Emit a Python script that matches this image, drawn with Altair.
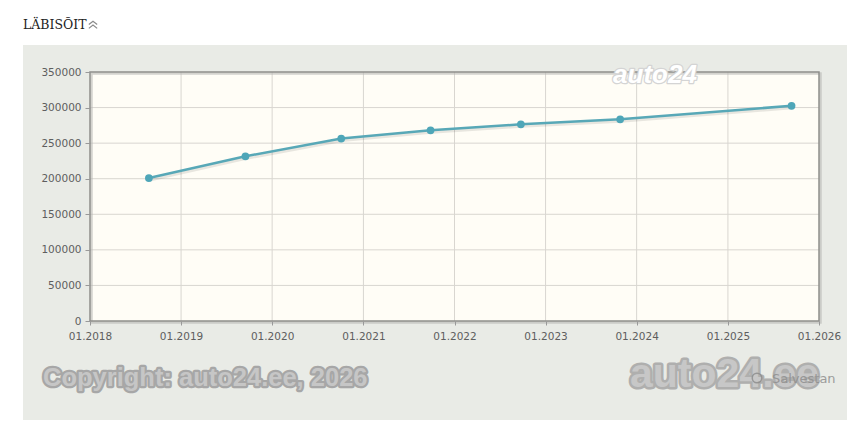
import altair as alt
import pandas as pd

# ---- data ----
dates = ["2018-08-25", "2019-09-16", "2020-10-04", "2021-09-27",
         "2022-09-24", "2023-10-27", "2025-09-13"]
km = [201000, 231500, 256500, 268000, 276500, 283500, 302500]
x_ticks = ["2018-01-01", "2019-01-01", "2020-01-01", "2021-01-01", "2022-01-01",
           "2023-01-01", "2024-01-01", "2025-01-01", "2026-01-01"]
y_ticks = [0, 50000, 100000, 150000, 200000, 250000, 300000, 350000]
title_text = "LÄBISÕIT"
copyright_text = "Copyright: auto24.ee, 2026"
brand_text = "auto24.ee"
brand_top = "auto24"
save_text = "Salvestan"

W, H = 729, 249

df = pd.DataFrame({"date": dates, "km": km})
xt = pd.DataFrame({"date": x_ticks[1:-1]})
yt = pd.DataFrame({"km": y_ticks[1:-1]})
one = pd.DataFrame({"a": [0]})

xscale = alt.Scale(type="utc",
                   domain=[alt.DateTime(year=2018, month=1, date=1, utc=True),
                           alt.DateTime(year=2026, month=1, date=1, utc=True)])
yscale = alt.Scale(domain=[0, 350000], nice=False)

xaxis = alt.Axis(values=[alt.DateTime(year=int(d[:4]), month=1, date=1, utc=True) for d in x_ticks],
                 format="%m.%Y", title=None, grid=False, domain=False,
                 tickSize=4, tickColor="#999999", labelPadding=6,
                 labelFlush=False, labelOverlap=False,
                 labelFont="DejaVu Sans", labelFontSize=10.5, labelColor="#5e5e5e", zindex=1)
yaxis = alt.Axis(values=y_ticks, format="d", title=None, grid=False, domain=False,
                 tickSize=5, tickColor="#999999", labelPadding=4,
                 labelFlush=False, labelOverlap=False,
                 labelFont="DejaVu Sans", labelFontSize=10.5, labelColor="#5e5e5e", zindex=1)

X = alt.X("date:T", scale=xscale, axis=xaxis)
Y = alt.Y("km:Q", scale=yscale, axis=yaxis)

panel = alt.Chart(one).mark_rect(color="#e9ebe6").encode(
    x=alt.value(-67), x2=alt.value(757), y=alt.value(-27), y2=alt.value(348))
cream = alt.Chart(one).mark_rect(color="#fffdf6").encode(
    x=alt.value(0), x2=alt.value(W), y=alt.value(0), y2=alt.value(H))

vgrid = alt.Chart(xt).mark_rule(color="#d9d6d0", strokeWidth=1).encode(x=X)
hgrid = alt.Chart(yt).mark_rule(color="#d9d6d0", strokeWidth=1).encode(y=Y)

border_shadow = alt.Chart(one).mark_rect(filled=False, stroke="#b8b8b4", strokeWidth=2.5, opacity=0.6).encode(
    x=alt.value(1.5), x2=alt.value(W + 1.5), y=alt.value(1.5), y2=alt.value(H + 1.5))
border = alt.Chart(one).mark_rect(filled=False, stroke="#8e8e8a", strokeWidth=1.5).encode(
    x=alt.value(0), x2=alt.value(W), y=alt.value(0), y2=alt.value(H))

line_shadow = alt.Chart(df).mark_line(color="#000000", opacity=0.09, strokeWidth=3,
                                      xOffset=1, yOffset=2).encode(x=X, y=Y)
line = alt.Chart(df).mark_line(color="#58a8b7", strokeWidth=2.5).encode(x=X, y=Y)
points = alt.Chart(df).mark_circle(color="#4ea6b8", opacity=1, size=60).encode(x=X, y=Y)

def txt(text, x, y, size, color, font="Liberation Sans", weight="normal", style="normal",
        stroke=None, sw=0, opacity=1.0, align="left"):
    kw = dict(text=text, font=font, fontSize=size, fontWeight=weight, fontStyle=style,
              color=color, align=align, baseline="middle", opacity=opacity)
    if stroke is not None:
        kw.update(stroke=stroke, strokeWidth=sw, strokeJoin="round")
    return alt.Chart(one).mark_text(**kw).encode(x=alt.value(x), y=alt.value(y))

title = txt(title_text, -67, -47, 12.5, "#222222", font="DejaVu Serif")
# double up-chevron icon next to the title
chev = alt.Chart(one).mark_point(
    shape="M-1,-0.1L0,-0.9L1,-0.1M-1,0.8L0,0L1,0.8", filled=False, size=70,
    color="#8a8a8a", strokeWidth=1.2, opacity=1).encode(x=alt.value(3), y=alt.value(-47))

copy_o = txt(copyright_text, -47, 306, 25.5, "#a7a7a7", weight="bold", stroke="#a7a7a7", sw=4.5)
copy_f = txt(copyright_text, -47, 306, 25.5, "#c6c6c6", weight="bold")
brand_o = txt(brand_text, 540, 303, 41, "#a9a9a9", weight="bold", stroke="#a9a9a9", sw=5, opacity=0.9)
brand_f = txt(brand_text, 540, 303, 41, "#cacaca", weight="bold", opacity=0.9)
top_o = txt(brand_top, 565, 3, 26, "#d4d4d4", weight="bold", style="italic", stroke="#d4d4d4", sw=2.5,
            align="center")
top_f = txt(brand_top, 565, 3, 26, "#ffffff", weight="bold", style="italic", align="center")

save_icon = alt.Chart(one).mark_point(shape="circle", size=90, color="#8a8a8a", strokeWidth=1.5,
                                      opacity=0.8).encode(x=alt.value(667), y=alt.value(306))
save = txt(save_text, 682, 307, 13, "#8f8f8f", font="DejaVu Sans", opacity=0.85)

chart = alt.layer(
    panel, cream, vgrid, hgrid, border_shadow, border, line_shadow, line, points,
    title, chev, copy_o, copy_f, brand_o, brand_f, top_o, top_f, save_icon, save
).properties(
    width=W, height=H,
    autosize=alt.AutoSizeParams(type="none"),
    padding={"left": 82, "top": 64, "right": 30, "bottom": 100},
    background="#ffffff",
).configure_view(strokeWidth=0)

chart.save("out.html", embed_options={"renderer": "svg", "actions": False})
